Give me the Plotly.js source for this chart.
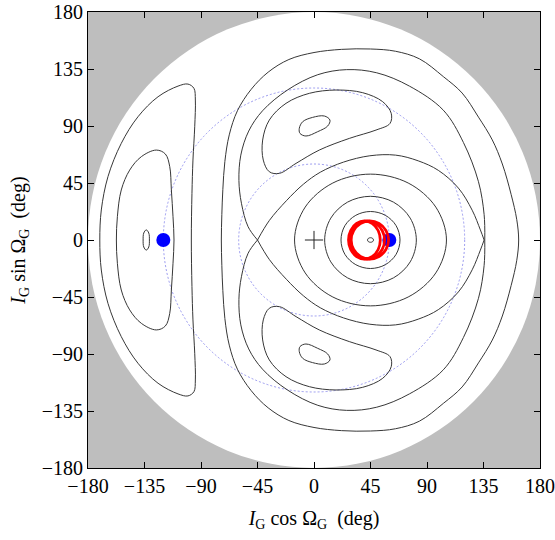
<!DOCTYPE html>
<html>
<head>
<meta charset="utf-8">
<script src="https://cdn.plot.ly/plotly-3.0.1.min.js"></script>
<style>
  html, body { margin: 0; padding: 0; background: #ffffff; }
  #chart { width: 555px; height: 540px; }
</style>
</head>
<body>
<div id="chart"></div>
<script>
// Axis ticks (deg)
const tickValues = [-180, -135, -90, -45, 0, 45, 90, 135, 180];
// Reference circles of constant inclination (deg): domain edge and two dotted guides
const domainRadius = [180];
const guideRadii = [60, 120];

// Left island: outer level curve
const leftOuterX = [-170.6,-169.4,-164.1,-153.5,-140.2,-124.2,-108.3,-100.4,-95.6,-94.5,-95.0,-96.4,-97.2,-97.7,-97.2,-96.4,-95.0,-94.5,-95.6,-100.4,-108.3,-124.2,-140.2,-153.5,-164.1,-169.4,-170.6];
const leftOuterY = [0,23.7,50,76.3,97.3,113.1,121.5,123.1,119.7,110.5,89.4,63.1,36.8,0,-36.8,-63.1,-89.4,-110.5,-119.7,-123.1,-121.5,-113.1,-97.3,-76.3,-50,-23.7,0];
// Left island: inner level curve
const leftInnerX = [-157.4,-156.6,-153.5,-146.8,-137.5,-125.6,-118.4,-114.9,-113.6,-112.3,-111.5,-112.3,-113.6,-114.9,-118.4,-125.6,-137.5,-146.8,-153.5,-156.6,-157.4];
const leftInnerY = [0,18.4,39.5,55.2,65.8,71,67.9,57.9,39.5,18.4,0,-18.4,-39.5,-57.9,-67.9,-71,-65.8,-55.2,-39.5,-18.4,0];
// Left island: small core oval
const leftCoreX = [-133.6,-131.6,-131.1,-131.6,-133.6,-135.6,-136.1,-135.6,-133.6];
const leftCoreY = [8,5.5,0,-5.5,-8,-5.5,0,5.5,8];

// Large closed curve around the right-hand region
const bigX = [-73.8,-73.4,-72.6,-71,-67.5,-61,-50,-36.5,-20,0,22,45,65,84,103,118,131,142,150,157,161.5,163,
              161.5,157,150,142,131,118,103,84,65,45,22,0,-20,-36.5,-50,-61,-67.5,-71,-72.6,-73.4,-73.8];
const bigY = [0,20,40,62,83,102,119,132.5,142.5,148,150.5,150.8,149,143,129,116,97,79,60,36,16,0,
              -16,-36,-60,-79,-97,-116,-129,-143,-149,-150.8,-150.5,-148,-142.5,-132.5,-119,-102,-83,-62,-40,-20,0];

// Separatrix, outer branches (from the X point round to the cusp)
const sepOuterX = [-45,-52.5,-57.8,-59.8,-58.3,-52,-41,-21,3,26,50,76,103,119,131,135.5,136];
const sepOuterUpY = [0,10.5,29,47,67,86,102,118.5,130.5,134.5,132,121.5,102.5,77,46,20,0];
const sepOuterLowY = [0,-10.5,-29,-47,-67,-86,-102,-118.5,-130.5,-134.5,-132,-121.5,-102.5,-77,-46,-20,0];
// Separatrix, inner branches (bounding the central lobe)
const sepInnerX = [-45,-35.5,-22,-8.5,5,23.5,44.5,65,83,99,115,126,132.5,135.5];
const sepInnerUpY = [0,15.5,31,44,53.5,61.5,66.5,67,62.5,55,41,23.5,8,0];
const sepInnerLowY = [0,-15.5,-31,-44,-53.5,-61.5,-66.5,-67,-62.5,-55,-41,-23.5,-8,0];

// Upper and lower islands: lobe curves
const lobeX = [-40.9,-35.6,-22.3,-3.7,17.5,38.8,54.7,61.5,60.5,49.4,28.1,4.2,-14.3,-27.6,-35.6,-40.4,-40.9];
const lobeUpY = [78.9,94.7,107.9,115.8,118.4,116.3,109.2,100,92,86.8,80.2,71,60.5,52.6,53.9,63.1,78.9];
const lobeLowY = [-78.9,-94.7,-107.9,-115.8,-118.4,-116.3,-109.2,-100,-92,-86.8,-80.2,-71,-60.5,-52.6,-53.9,-63.1,-78.9];
// Upper and lower islands: core ovals
const islandCoreX = [-11.7,-9,-1.1,8.2,12.7,10.9,2.9,-6.4,-11.2,-11.7];
const islandCoreUpY = [88.2,93.4,96.8,97.9,94.7,90,85.5,82.1,84.2,88.2];
const islandCoreLowY = [-88.2,-93.4,-96.8,-97.9,-94.7,-90,-85.5,-82.1,-84.2,-88.2];

// Central lobe: nested level curves around the forced point
const ringCX = [105.5,97,75,45,15,-7,-15.5,-7,15,45,75,97,105.5];
const ringCY = [0,26,45,52,45,26,0,-26,-45,-52,-45,-26,0];
const ringBX = [81.5,76.6,63.3,45,26.7,13.4,8.5,13.4,26.7,45,63.3,76.6,81.5];
const ringBY = [0,17.3,29.9,34.5,29.9,17.3,0,-17.3,-29.9,-34.5,-29.9,-17.3,0];
const ringAX = [68.5,65.4,56.8,45,33.3,24.6,21.5,24.6,33.3,45,56.8,65.4,68.5];
const ringAY = [0,11.3,19.5,22.5,19.5,11.3,0,-11.3,-19.5,-22.5,-19.5,-11.3,0];
const coreX = [42.6,43.3,45,46.7,47.4,46.7,45,43.3,42.6];
const coreY = [0,1.3,1.8,1.3,0,-1.3,-1.8,-1.3,0];

// Integrated orbit (red): three successive revolutions
const orbitLoop1X = [52.8,51.1,46.5,40.2,33.9,29.2,27.5,29.2,33.9,40.2,46.5,51.1,52.8];
const orbitLoop2X = [56.2,54.3,49.2,42.3,35.4,30.3,28.5,30.3,35.4,42.3,49.2,54.3,56.2];
const orbitLoop3X = [59.4,57.3,51.8,44.4,37.0,31.6,29.6,31.6,37.0,44.4,51.8,57.3,59.4];
const orbitLoopY = [0,7.5,13,15,13,7.5,0,-7.5,-13,-15,-13,-7.5,0];

// Equilibria (blue) and the origin marker
const eqX = [-120, 60];
const eqY = [0, 0];
const originX = [0];
const originY = [0];

const levelColor = 'rgb(55,55,55)';
function level(xs, ys) {
  return {
    type: 'scatter', mode: 'lines', x: xs, y: ys,
    line: { color: levelColor, width: 1, shape: 'spline', smoothing: 1 },
    hoverinfo: 'skip', showlegend: false
  };
}
function orbit(xs, ys) {
  return {
    type: 'scatter', mode: 'lines', x: xs, y: ys,
    line: { color: '#ff0000', width: 2.8, shape: 'spline', smoothing: 1 },
    hoverinfo: 'skip', showlegend: false
  };
}

const traces = [
  level(leftOuterX, leftOuterY),
  level(leftInnerX, leftInnerY),
  level(leftCoreX, leftCoreY),
  level(bigX, bigY),
  level(sepOuterX, sepOuterUpY),
  level(sepOuterX, sepOuterLowY),
  level(sepInnerX, sepInnerUpY),
  level(sepInnerX, sepInnerLowY),
  level(lobeX, lobeUpY),
  level(lobeX, lobeLowY),
  level(islandCoreX, islandCoreUpY),
  level(islandCoreX, islandCoreLowY),
  level(ringCX, ringCY),
  level(ringBX, ringBY),
  level(ringAX, ringAY),
  level(coreX, coreY),
  {
    type: 'scatter', mode: 'markers', x: eqX, y: eqY,
    marker: { color: '#0000ff', size: 14 },
    hoverinfo: 'skip', showlegend: false
  },
  orbit(orbitLoop1X, orbitLoopY),
  orbit(orbitLoop2X, orbitLoopY),
  orbit(orbitLoop3X, orbitLoopY),
  {
    type: 'scatter', mode: 'markers', x: originX, y: originY,
    marker: { symbol: 'cross-thin', size: 13, color: '#000', line: { color: '#222', width: 1 } },
    hoverinfo: 'skip', showlegend: false
  }
];

// Disk of admissible inclinations and the dotted guide circles
const shapes = [];
domainRadius.forEach(r => shapes.push({
  type: 'circle', xref: 'x', yref: 'y', x0: -r, x1: r, y0: -r, y1: r,
  fillcolor: '#ffffff', line: { width: 0 }, layer: 'below'
}));
guideRadii.forEach(r => shapes.push({
  type: 'circle', xref: 'x', yref: 'y', x0: -r, x1: r, y0: -r, y1: r,
  fillcolor: 'rgba(0,0,0,0)', line: { color: 'rgba(130,130,235,0.8)', width: 1, dash: '2px,2px' },
  layer: 'below'
}));

const tickFont = { family: '"Liberation Serif", "DejaVu Serif", serif', size: 20, color: '#000' };
const axisCommon = {
  range: [-180, 180],
  tickvals: tickValues,
  ticktext: tickValues.map(v => v < 0 ? '\u2212' + Math.abs(v) : String(v)),
  ticks: 'inside', ticklen: 6, tickcolor: '#000', tickwidth: 1,
  showline: true, linecolor: '#000', linewidth: 1, mirror: 'ticks',
  showgrid: false, zeroline: false,
  tickfont: tickFont,
  automargin: false
};

const layout = {
  width: 555, height: 540,
  margin: { l: 88, r: 15, t: 12, b: 72 },
  paper_bgcolor: '#ffffff',
  plot_bgcolor: '#bebebe',
  showlegend: false,
  xaxis: Object.assign({}, axisCommon, {
    title: { text: '<i>I</i><sub>G</sub> cos Ω<sub>G</sub>  (deg)', font: tickFont, standoff: 14 }
  }),
  yaxis: Object.assign({}, axisCommon, {
    title: { text: '<i>I</i><sub>G</sub> sin Ω<sub>G</sub>  (deg)', font: tickFont, standoff: 10 }
  }),
  shapes: shapes
};

Plotly.newPlot('chart', traces, layout, { displayModeBar: false, staticPlot: true });
</script>
</body>
</html>
